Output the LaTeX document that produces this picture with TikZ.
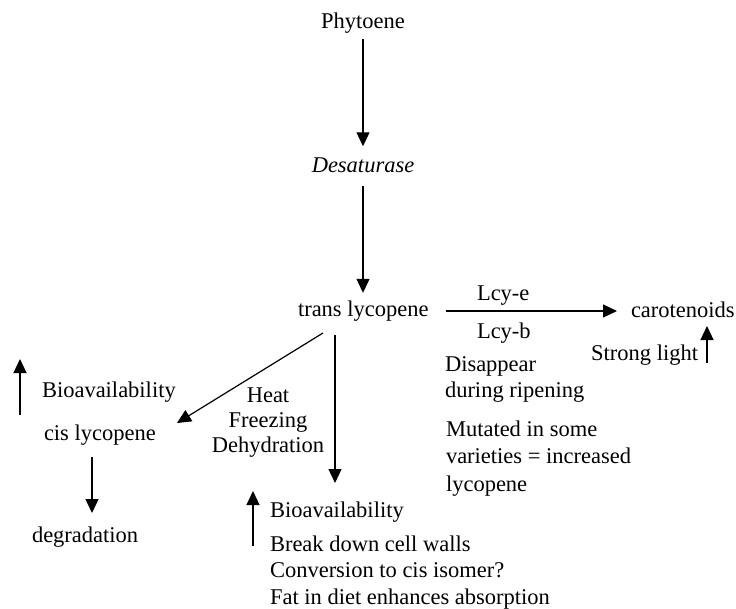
\documentclass[tikz,border=0pt]{standalone}
\usepackage{fontspec}
\setmainfont{Liberation Serif}
\usetikzlibrary{arrows.meta}
\begin{document}
\begin{tikzpicture}[x=1pt,y=-1pt,
  lbl/.style={inner sep=0pt,outer sep=0pt,font=\fontsize{22.5}{27}\selectfont},
  arr/.style={draw,line width=1.2pt,-{Triangle[length=14pt,width=13pt]}}]
\useasboundingbox (0,0) rectangle (736,608);
% nodes
\node[lbl,anchor=base] (phy) at (363,28) {Phytoene};
\node[lbl,anchor=base] (des) at (363,172) {\textit{Desaturase}};
\node[lbl,anchor=base west] (trans) at (298,316) {trans lycopene};
\node[lbl,anchor=base west] (lcye) at (477,300) {Lcy-e};
\node[lbl,anchor=base west] (lcyb) at (477,338) {Lcy-b};
\node[lbl,anchor=base west] (car) at (631,317) {carotenoids};
\node[lbl,anchor=base east] (strong) at (698,360) {Strong light};
\node[lbl,anchor=north west,align=left,font=\fontsize{22.5}{26}\selectfont] (dis) at (445,356.6) {Disappear\\during ripening};
\node[lbl,anchor=north west,align=left,font=\fontsize{22.5}{27.5}\selectfont] (mut) at (446,420.6) {Mutated in some\\varieties = increased\\lycopene};
\node[lbl,anchor=north,align=center,font=\fontsize{22.5}{25}\selectfont] (heat) at (268,388) {Heat\\Freezing\\Dehydration};
\node[lbl,anchor=base west] (bio1) at (42,397) {Bioavailability};
\node[lbl,anchor=base west] (cis) at (44,440) {cis lycopene};
\node[lbl,anchor=base west] (deg) at (32,542) {degradation};
\node[lbl,anchor=base west] (bio2) at (270,517) {Bioavailability};
\node[lbl,anchor=north west,align=left,font=\fontsize{22.5}{26.5}\selectfont] (brk) at (270,535.6) {Break down cell walls\\Conversion to cis isomer?\\Fat in diet enhances absorption};
% connectors
\draw[arr,shorten <=6pt,shorten >=11pt] (phy.south) -- (des.north);
\draw[arr,shorten <=14pt,shorten >=7.6pt] (des.south) -- (des.south |- trans.north);
\draw[arr] ([shift={(17,-5)}]trans.base east) -- ([shift={(-14,-6)}]car.base west);
\draw[arr] ([shift={(25,17)}]trans.base west) -- ([shift={(133,-17)}]cis.base west);
\draw[arr] ([shift={(37,19)}]trans.base west) -- ([shift={(65,-34)}]bio2.base west);
\draw[arr] ([shift={(48,17)}]cis.base west) -- ([shift={(60,-29)}]deg.base west);
\draw[arr] ([shift={(-22,18)}]bio1.base west) -- ([shift={(-22,-38)}]bio1.base west);
\draw[arr] ([shift={(-17,29)}]bio2.base west) -- ([shift={(-17,-26)}]bio2.base west);
\draw[arr] ([shift={(9,3)}]strong.base east) -- ([shift={(9,-34)}]strong.base east);
\end{tikzpicture}
\end{document}
